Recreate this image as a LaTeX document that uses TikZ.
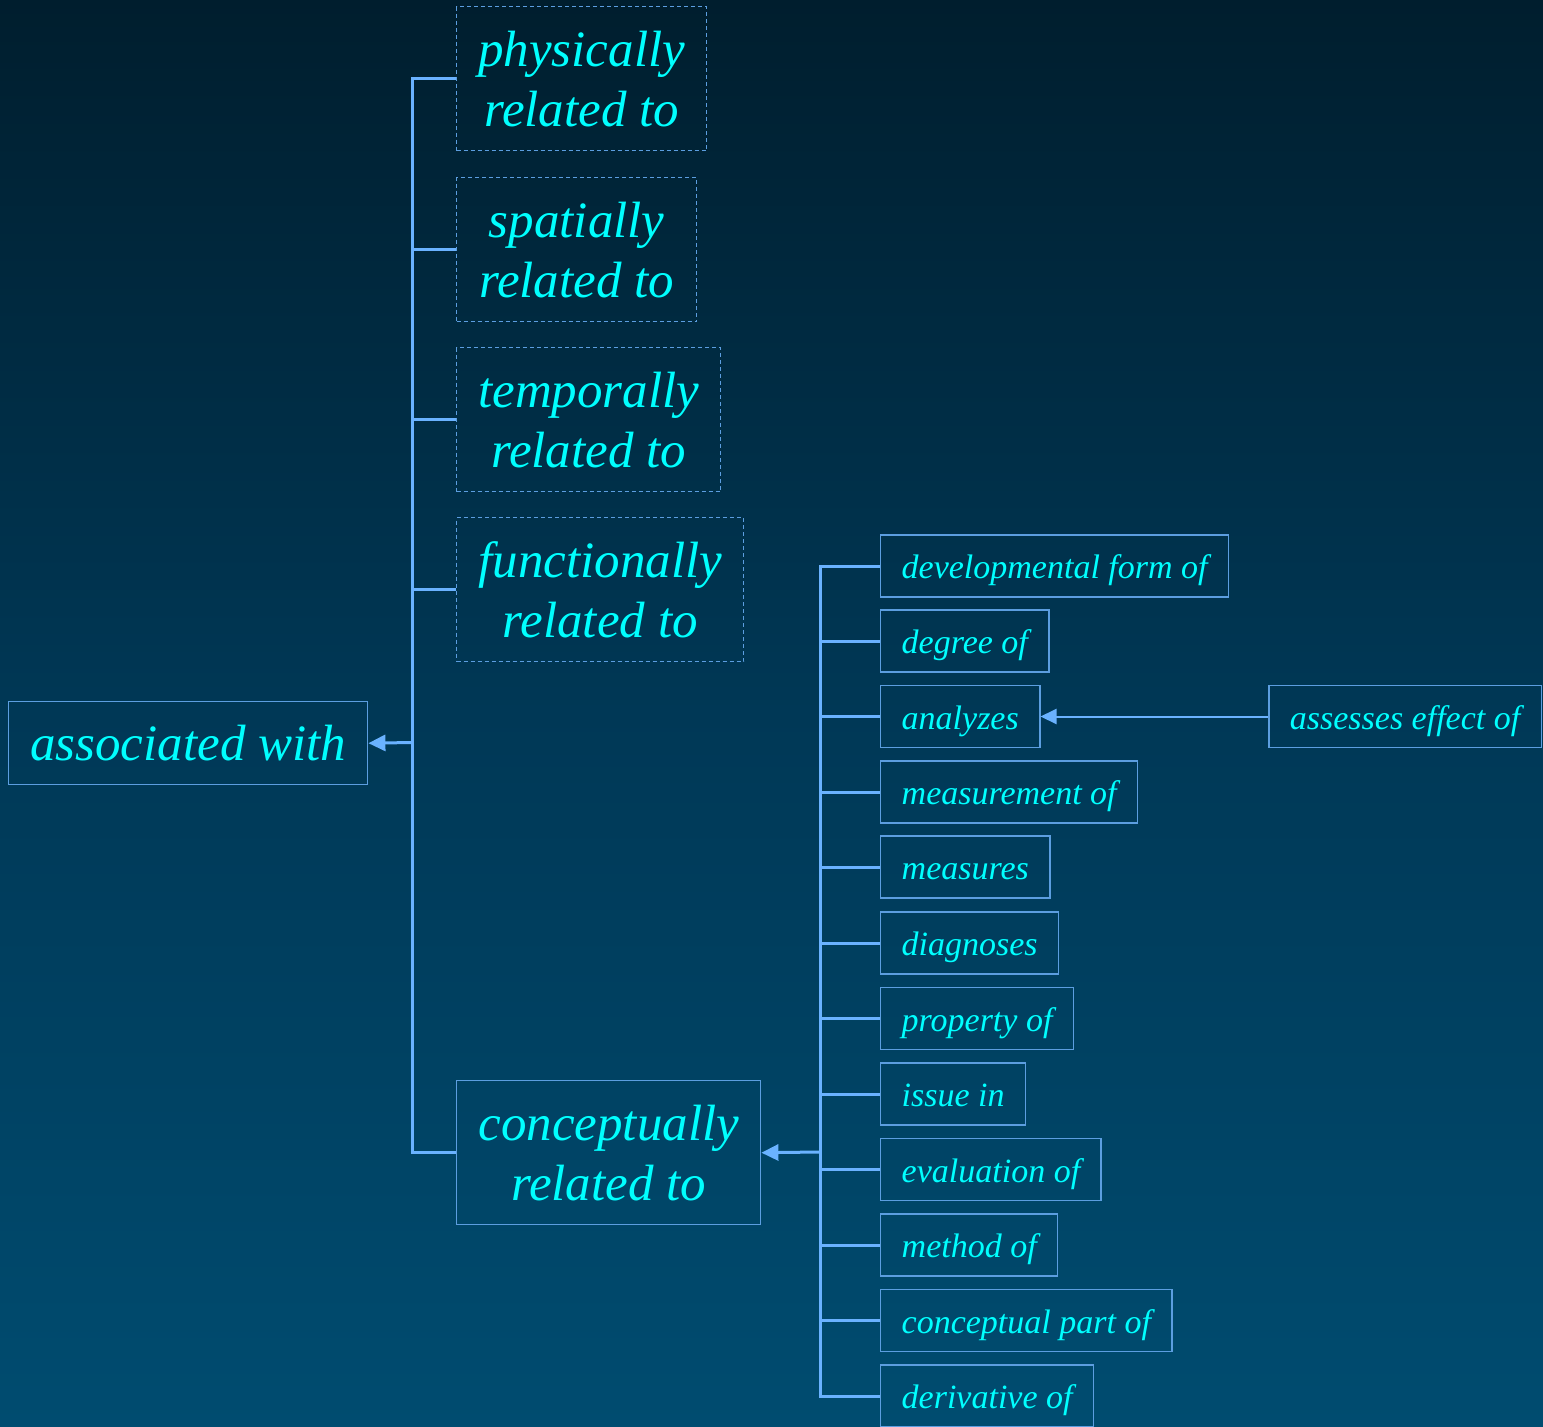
\documentclass[tikz,border=0pt]{standalone}
\usepackage{fontspec}
\setmainfont{Liberation Serif}
\usetikzlibrary{arrows.meta}
\definecolor{bgtop}{RGB}{0,30,46}
\definecolor{bgmid}{RGB}{0,56,86}
\definecolor{bgbot}{RGB}{0,76,112}
\definecolor{txt}{RGB}{0,255,255}
\definecolor{ln}{RGB}{106,178,255}
\definecolor{bd}{RGB}{92,158,224}
\begin{document}
\begin{tikzpicture}[x=1pt,y=-1pt,
  big/.style={draw=bd,line width=1.4pt,text=txt,font=\fontsize{51}{60}\selectfont\itshape,
    align=center,inner sep=0pt,anchor=north west},
  bigdash/.style={big,dash pattern=on 4pt off 3pt},
  small/.style={draw=bd,line width=1.4pt,text=txt,font=\fontsize{34}{40}\selectfont\itshape,
    inner xsep=21pt,inner ysep=0pt,text height=30pt,text depth=5pt,minimum height=62pt,anchor=west},
  conn/.style={draw=ln,line width=3pt},
  arr/.style={conn,-{Triangle[length=17pt,width=16pt]}},
  thinarr/.style={draw=ln,line width=2pt,-{Triangle[length=16pt,width=15pt]}}]
\useasboundingbox (0,0) rectangle (1543,1427);
\shade[top color=bgtop,bottom color=bgbot,middle color=bgmid] (0,0) rectangle (1543,1427);

% big boxes
\node[bigdash,minimum width=250pt,minimum height=144pt] (phys) at (456,6) {physically\\related to};
\node[bigdash,minimum width=240pt,minimum height=144pt] (spat) at (456,177) {spatially\\related to};
\node[bigdash,minimum width=264pt,minimum height=144pt] (temp) at (456,347) {temporally\\related to};
\node[bigdash,minimum width=287pt,minimum height=144pt] (func) at (456,517) {functionally\\related to};
\node[big,minimum width=359pt,minimum height=83pt] (assoc) at (8,701) {associated with};
\node[big,minimum width=304pt,minimum height=144pt] (concept) at (456,1080) {conceptually\\related to};

% small boxes
\node[small] (dev) at (880,566) {developmental form of};
\node[small] (deg) at (880,641) {degree of};
\node[small] (anal) at (880,716.5) {analyzes};
\node[small] (meas) at (880,792) {measurement of};
\node[small] (mes) at (880,867) {measures};
\node[small] (diag) at (880,943) {diagnoses};
\node[small] (prop) at (880,1018.5) {property of};
\node[small] (iss) at (880,1094) {issue in};
\node[small] (eval) at (880,1169.5) {evaluation of};
\node[small] (meth) at (880,1245) {method of};
\node[small] (cpart) at (880,1320.5) {conceptual part of};
\node[small] (deriv) at (880,1396) {derivative of};
\node[small,anchor=east] (assess) at (1542,716.5) {assesses effect of};

% left tree
\coordinate (tA) at (412,742.5);
\draw[conn] (phys.west) -| (tA) |- (concept.west);
\foreach \n in {spat,temp,func} \draw[conn] (\n.west) -- (\n.west -| tA);
\draw[arr] (tA) -- (assoc.east);

% right tree
\coordinate (tB) at (820,1152);
\draw[conn] (dev.west) -| (tB) |- (deriv.west);
\foreach \n in {deg,anal,meas,mes,diag,prop,iss,eval,meth,cpart} \draw[conn] (\n.west) -- (\n.west -| tB);
\draw[arr] (tB) -- (concept.east);

\draw[thinarr] (assess.west) -- (anal.east);
\end{tikzpicture}
\end{document}
